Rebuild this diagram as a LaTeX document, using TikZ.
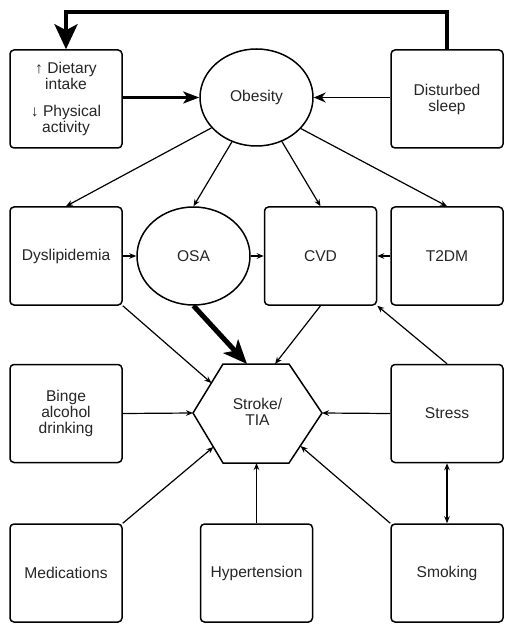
\documentclass[tikz,border=0pt]{standalone}
\usepackage{fontspec}
\setmainfont{Liberation Sans}
\usetikzlibrary{arrows.meta,shapes.geometric}
\begin{document}
\begin{tikzpicture}[x=0.5pt,y=-0.5pt,
  every node/.style={font=\fontsize{7.8}{8}\selectfont, text=black!85, align=center, inner sep=0pt},
  box/.style={draw, line width=0.75pt, rounded corners=2pt, minimum width=56pt, minimum height=49pt},
  ell/.style={draw, line width=0.75pt, ellipse, minimum width=56.5pt, minimum height=48.5pt},
  thinarr/.style={line width=0.6pt, -{Stealth[length=3.5pt,width=2.8pt]}},
  medarr/.style={line width=0.8pt, -{Stealth[length=6pt,width=5pt]}},
  boldarr/.style={line width=1.3pt, -{Stealth[length=8pt,width=6pt,inset=2pt]}},
  heavyarr/.style={line width=2.5pt, -{Stealth[length=12pt,width=10pt,inset=3pt]}},
  fbarr/.style={line width=2pt, -{Stealth[length=12.5pt,width=11.5pt,inset=3pt]}}]
\useasboundingbox[fill=white] (0,0) rectangle (514,630);

% nodes
\node[box] (diet) at (66,99) {};
\node (diettxt1) at (66,76) {↑ Dietary\\intake};
\node (diettxt2) at (66,120) {↓ Physical\\activity};
\node[ell] (obesity) at (256.5,97.5) {Obesity};
\node[box] (sleep) at (447,99) {Disturbed\\sleep};

\node[box] (dys) at (66,256) {Dyslipidemia};
\node[ell, minimum height=49pt] (osa) at (193.5,256) {OSA};
\node[box] (cvd) at (320.5,256) {CVD};
\node[box] (t2dm) at (447,256) {T2DM};

\node[box] (binge) at (66,413.5) {Binge\\alcohol\\drinking};
\node (stroke) at (257.5,412) {Stroke/\\TIA};
\node[box] (stress) at (447,413.5) {Stress};

\node[box] (med) at (66,573) {Medications};
\node[box] (hyp) at (256.5,573) {Hypertension};
\node[box] (smoke) at (447,573) {Smoking};

% hexagon
\coordinate (hL) at (193,413);
\coordinate (hTL) at (223,364);
\coordinate (hTR) at (289,364);
\coordinate (hR) at (322,413);
\coordinate (hBR) at (289,463);
\coordinate (hBL) at (223,463);
\draw[line width=0.75pt] (hL) -- (hTL) -- (hTR) -- (hR) -- (hBR) -- (hBL) -- cycle;

\coordinate (hUL) at (211.4,383);
\coordinate (hT1) at (247,364);
\coordinate (hT2) at (275,364);
\coordinate (hLL) at (213.4,447);
\coordinate (hB) at (256.5,463);
\coordinate (hLR) at (300.5,446);
\coordinate (fb) at (256,12);

% connectors
\draw[fbarr] (sleep.north) |- (fb) -| (diet.north);
\draw[boldarr] (diet.east |- obesity.center) -- (obesity.west);
\draw[medarr] (sleep.west |- obesity.center) -- (obesity.east);

\draw[thinarr] (obesity.214) -- (dys.north);
\draw[thinarr] (obesity.241) -- (osa.north);
\draw[thinarr] (obesity.300) -- (cvd.north);
\draw[thinarr] (obesity.325) -- (t2dm.north);

\draw[thinarr] (dys.east) -- (osa.west);
\draw[thinarr] (osa.east) -- (cvd.west);
\draw[thinarr] (t2dm.west) -- (cvd.east);

\draw[thinarr] (dys.south east) -- (hUL);
\draw[heavyarr] (osa.south) -- (hT1);
\draw[thinarr] (cvd.south) -- (hT2);
\draw[thinarr] (stress.north) -- (cvd.south east);

\draw[thinarr] (binge.east) -- (hL);
\draw[thinarr] (stress.west) -- (hR);
\draw[thinarr] (med.north east) -- (hLL);
\draw[thinarr] (hyp.north) -- (hB);
\draw[thinarr] (smoke.north west) -- (hLR);
\draw[line width=0.6pt, {Stealth[length=3.5pt,width=2.8pt]}-{Stealth[length=3.5pt,width=2.8pt]}] (stress.south) -- (smoke.north);
\end{tikzpicture}
\end{document}
